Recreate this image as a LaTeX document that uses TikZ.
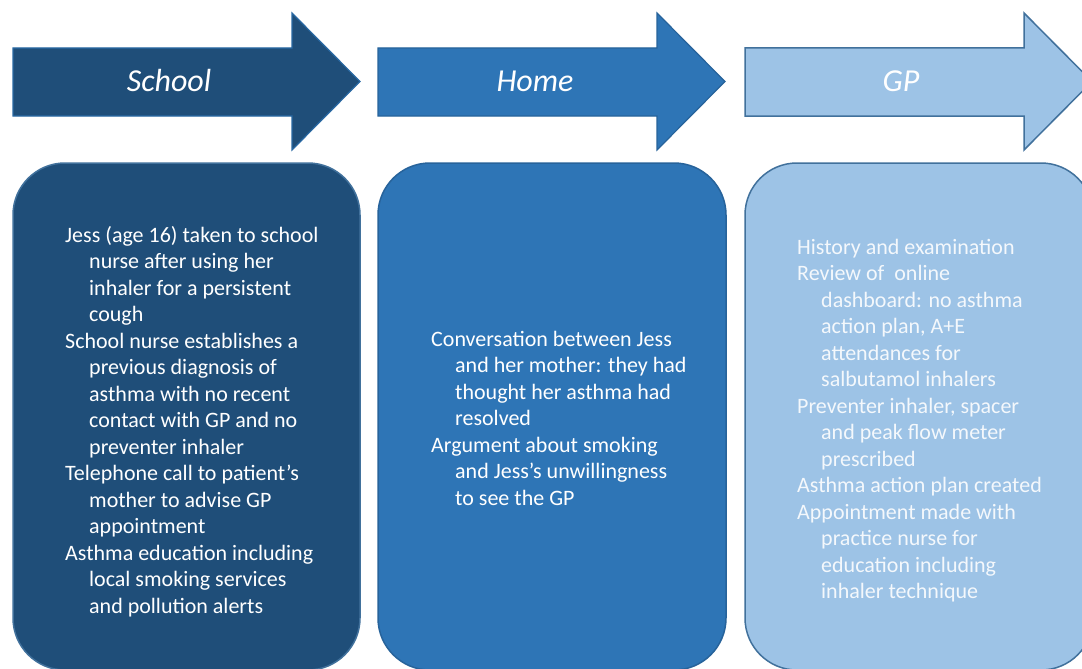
\documentclass[tikz,border=0pt]{standalone}
\usepackage{fontspec}
\setmainfont{Carlito}
\definecolor{schoolfill}{HTML}{1F4E79}
\definecolor{homefill}{HTML}{2E75B6}
\definecolor{gpfill}{HTML}{9DC3E6}
\definecolor{edgeblue}{HTML}{41719C}
\definecolor{gptext}{HTML}{F4F8FC}
\begin{document}
\begin{tikzpicture}[x=1pt,y=-1pt,
  stagearrow/.pic={
    \path[pic actions] (0,48) -- (279,48) -- (279,13) -- (347,81.5)
      -- (279,150) -- (279,116) -- (0,116) -- cycle;
  },
  arrowtitle/.style={font=\fontsize{32}{38}\selectfont\itshape, text=white, inner sep=0pt},
  stagebox/.style={draw=edgeblue, line width=1.5pt, rounded corners=52pt},
  boxtext/.style={font=\fontsize{22}{26.5}\selectfont, text=white, align=left,
    inner sep=0pt, anchor=north west}
]
\useasboundingbox (0,0) rectangle (1082,669);
\clip (0,0) rectangle (1082,669);
\fill[white] (0,0) rectangle (1082,669);

% stage arrows
\pic[fill=schoolfill, draw=homefill!70!schoolfill, line width=1.2pt] at (13,0) {stagearrow};
\pic[fill=homefill, draw=homefill!85!black, line width=1.2pt] at (378,0) {stagearrow};
\pic[fill=gpfill, draw=edgeblue, line width=1.5pt] at (745,0) {stagearrow};
\node[arrowtitle] (tschool) at (169,81) {School};
\node[arrowtitle] (thome) at (535,81) {Home};
\node[arrowtitle] (tgp) at (901,81) {GP};

% content boxes
\draw[stagebox, fill=schoolfill] (13,163) rectangle (360,670);
\draw[stagebox, fill=homefill, draw=homefill!85!black] (378,163) rectangle (726,670);
\draw[stagebox, fill=gpfill] (745,163) rectangle (1093,670);

\node[boxtext] (bschool) at (65,226) {%
Jess (age 16) taken to school\\
\hspace*{24pt}nurse after using her\\
\hspace*{24pt}inhaler for a persistent\\
\hspace*{24pt}cough\\
School nurse establishes a\\
\hspace*{24pt}previous diagnosis of\\
\hspace*{24pt}asthma with no recent\\
\hspace*{24pt}contact with GP and no\\
\hspace*{24pt}preventer inhaler\\
Telephone call to patient’s\\
\hspace*{24pt}mother to advise GP\\
\hspace*{24pt}appointment\\
Asthma education including\\
\hspace*{24pt}local smoking services\\
\hspace*{24pt}and pollution alerts};

\node[boxtext] (bhome) at (431,331) {%
Conversation between Jess\\
\hspace*{24pt}and her mother: they had\\
\hspace*{24pt}thought her asthma had\\
\hspace*{24pt}resolved\\
Argument about smoking\\
\hspace*{24pt}and Jess’s unwillingness\\
\hspace*{24pt}to see the GP};

\node[boxtext, text=gptext] (bgp) at (797,239) {%
History and examination\\
Review of\ \ online\\
\hspace*{24pt}dashboard: no asthma\\
\hspace*{24pt}action plan, A+E\\
\hspace*{24pt}attendances for\\
\hspace*{24pt}salbutamol inhalers\\
Preventer inhaler, spacer\\
\hspace*{24pt}and peak flow meter\\
\hspace*{24pt}prescribed\\
Asthma action plan created\\
Appointment made with\\
\hspace*{24pt}practice nurse for\\
\hspace*{24pt}education including\\
\hspace*{24pt}inhaler technique};
\end{tikzpicture}
\end{document}
